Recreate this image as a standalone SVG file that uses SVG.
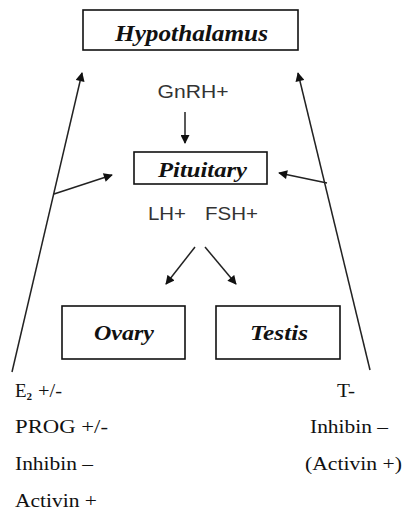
<svg xmlns="http://www.w3.org/2000/svg" width="402" height="517" viewBox="0 0 402 517">
<style>
.box{fill:#fff;stroke:#111;stroke-width:1.6}
.lbl{font-family:"Liberation Serif",serif;font-weight:bold;font-style:italic;fill:#111}
.hor{font-family:"Liberation Sans",sans-serif;font-size:19px;fill:#333}
.eff{font-family:"Liberation Serif",serif;font-size:19px;fill:#111}
.con{stroke:#222;stroke-width:1.5;fill:none;marker-end:url(#ah)}
</style>
<defs>
<marker id="ah" viewBox="0 0 10 10" refX="9" refY="5" markerWidth="10" markerHeight="9" markerUnits="userSpaceOnUse" orient="auto">
<path d="M0,0 L10,5 L0,10 z" fill="#111"/>
</marker>
</defs>
<rect width="402" height="517" fill="#fff"/>
<g id="connectors">
<line class="con" x1="12" y1="372" x2="82" y2="73"/>
<line class="con" x1="370" y1="370" x2="298" y2="73"/>
<line class="con" x1="185" y1="112" x2="185" y2="143"/>
<line class="con" x1="54" y1="194" x2="112" y2="175"/>
<line class="con" x1="327" y1="183" x2="279" y2="173"/>
<line class="con" x1="195" y1="247" x2="166" y2="284"/>
<line class="con" x1="205" y1="247" x2="236" y2="284"/>
</g>
<g id="hypothalamus">
<rect class="box" x="83" y="10" width="215" height="40"/>
<text class="lbl" x="191.5" y="41" font-size="23" text-anchor="middle" textLength="153" lengthAdjust="spacingAndGlyphs">Hypothalamus</text>
</g>
<g id="gnrh">
<text class="hor" x="193" y="98" text-anchor="middle" textLength="71" lengthAdjust="spacingAndGlyphs">GnRH+</text>
</g>
<g id="pituitary">
<rect class="box" x="134" y="152" width="133" height="32"/>
<text class="lbl" x="202.5" y="177" font-size="21" text-anchor="middle" textLength="89" lengthAdjust="spacingAndGlyphs">Pituitary</text>
</g>
<g id="lh-fsh">
<text class="hor" x="148" y="220" textLength="38" lengthAdjust="spacingAndGlyphs">LH+</text>
<text class="hor" x="205" y="220" textLength="53" lengthAdjust="spacingAndGlyphs">FSH+</text>
</g>
<g id="ovary">
<rect class="box" x="62" y="306" width="123" height="53"/>
<text class="lbl" x="124" y="340" font-size="21" text-anchor="middle" textLength="60" lengthAdjust="spacingAndGlyphs">Ovary</text>
</g>
<g id="testis">
<rect class="box" x="216" y="306" width="124" height="53"/>
<text class="lbl" x="279" y="340" font-size="21" text-anchor="middle" textLength="58" lengthAdjust="spacingAndGlyphs">Testis</text>
</g>
<g id="ovary-effects">
<text class="eff" x="15" y="397">E<tspan font-size="11" font-weight="bold" dy="3">2</tspan><tspan dy="-3" x="38" textLength="24" lengthAdjust="spacingAndGlyphs">+/-</tspan></text>
<text class="eff" x="15" y="433" textLength="93" lengthAdjust="spacingAndGlyphs">PROG +/-</text>
<text class="eff" x="15" y="470" textLength="78" lengthAdjust="spacingAndGlyphs">Inhibin –</text>
<text class="eff" x="15" y="507" textLength="82" lengthAdjust="spacingAndGlyphs">Activin +</text>
</g>
<g id="testis-effects">
<text class="eff" x="337" y="397" textLength="18" lengthAdjust="spacingAndGlyphs">T-</text>
<text class="eff" x="310" y="433" textLength="78" lengthAdjust="spacingAndGlyphs">Inhibin –</text>
<text class="eff" x="305" y="470" textLength="97" lengthAdjust="spacingAndGlyphs">(Activin +)</text>
</g>
</svg>
